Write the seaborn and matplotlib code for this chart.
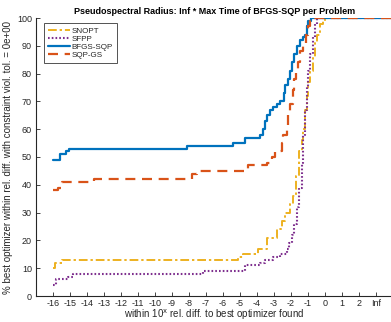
import matplotlib
matplotlib.use("Agg")
import matplotlib.pyplot as plt
import numpy as np
import pandas as pd
import seaborn as sns

# Performance-profile style step curves: x = log10 relative difference, Inf plotted at 3
snopt_x = [-16, -15.9, -15.5, -5.1, -4.8, -3.92, -3.43, -2.84, -2.55, -2.35, -2.06, -1.9, -1.7,
           -1.51, -1.37, -1.27, -1.18, -1.08, -0.98, -0.88, -0.73, -0.59, -0.45, -0.29, -0.1, 0, 4]
snopt_y = [10, 12, 13, 14, 15, 17, 21, 24, 27, 30, 33, 36, 43,
           52, 56, 60, 67, 72, 77, 81, 86, 91, 94, 98, 99, 100, 100]

sfpp_x = [-16, -15.8, -15.1, -14.8, -7.2, -4.7, -3.82, -3.53, -3.04, -2.65, -2.25, -2.1, -1.96,
          -1.82, -1.67, -1.51, -1.37, -1.27, -1.18, -1.08, -0.98, -0.88, -0.73, -0.59, -0.49, 4]
sfpp_y = [4, 6, 7, 8, 9, 11, 12, 13, 14, 15, 17, 19, 22,
          26, 32, 39, 48, 58, 67, 75, 81, 87, 93, 98, 100, 100]

bfgs_x = [-16, -15.6, -15.25, -15.05, -8.1, -5.4, -4.7, -3.82, -3.63, -3.53, -3.43, -3.24, -3.04,
          -2.84, -2.65, -2.41, -2.35, -2.16, -2.06, -1.92, -1.82, -1.67, -1.47, -1.27, -1.18,
          -1.08, -0.98, -0.84, 4]
bfgs_y = [49, 51, 52, 53, 54, 55, 57, 58, 60, 63, 65, 67, 68,
          69, 70, 73, 76, 78, 81, 84, 87, 90, 92, 93, 94,
          97, 99, 100, 100]

sqpgs_x = [-16, -15.7, -15.5, -13.6, -7.8, -7.5, -4.5, -3.43, -3.14, -2.94, -2.55, -2.45, -2.25,
           -2.16, -2.06, -1.9, -1.82, -1.7, -1.57, -1.47, -1.27, -1.12, -0.98, -0.88, -0.78, 4]
sqpgs_y = [38, 39, 41, 42, 44, 45, 47, 48, 50, 52, 55, 58, 61,
           65, 69, 74, 78, 81, 84, 88, 91, 94, 97, 99, 100, 100]

x_ticks = list(range(-16, 4))
x_tick_labels = [str(v) for v in range(-16, 3)] + ["Inf"]
y_ticks = list(range(0, 101, 10))

sns.set_style("ticks")
plt.rcParams["font.family"] = ["Liberation Sans", "DejaVu Sans"]

fig = plt.figure(figsize=(3.91, 3.22), dpi=100)
ax = fig.add_axes([36 / 391, 26 / 322, 357 / 391, 278 / 322])

series = [
    ("SNOPT", snopt_x, snopt_y, "#EDB120", (0, (4.5, 1.5, 1.2, 1.5)), 1.4),
    ("SFPP", sfpp_x, sfpp_y, "#7E2F8E", (0, (0.8, 1.0)), 1.5),
    ("BFGS-SQP", bfgs_x, bfgs_y, "#0072BD", "-", 1.6),
    ("SQP-GS", sqpgs_x, sqpgs_y, "#D95319", (0, (4.5, 3.0)), 1.6),
]
for name, xs, ys, color, ls, lw in series:
    df = pd.DataFrame({"x": xs, "pct": ys})
    sns.lineplot(data=df, x="x", y="pct", ax=ax, color=color, linestyle=ls, linewidth=lw,
                 drawstyle="steps-post", estimator=None, sort=False, label=name)

ax.set_xlim(-17, 4)
ax.set_ylim(0, 100)
ax.set_xticks(x_ticks)
ax.set_xticklabels(x_tick_labels)
ax.set_yticks(y_ticks)

dark = "#262626"
for side in ["top", "right"]:
    ax.spines[side].set_visible(False)
for side in ["left", "bottom"]:
    ax.spines[side].set_color(dark)
    ax.spines[side].set_linewidth(0.8)
ax.tick_params(direction="in", length=3, width=0.6, colors=dark, labelsize=6.5)
ax.tick_params(axis="x", pad=2)
ax.tick_params(axis="y", pad=3)

ax.set_xlabel("within 10$^{\\mathrm{x}}$ rel. diff. to best optimizer found", fontsize=7,
              color=dark, labelpad=0)
ax.set_ylabel("% best optimizer within rel. diff. with constraint viol. tol. = 0e+00",
              fontsize=7, color=dark, labelpad=3)
ax.set_title("Pseudospectral Radius: Inf * Max Time of BFGS-SQP per Problem",
             fontsize=6.5, fontweight="bold", color="black", pad=3)

leg = ax.legend(loc="upper left", bbox_to_anchor=(8 / 357, 1 - 5 / 278), borderaxespad=0,
                fontsize=5.8, frameon=True, fancybox=False, handlelength=2.7,
                handletextpad=0.25, labelspacing=0.05, borderpad=0.5)
leg.get_frame().set_edgecolor(dark)
leg.get_frame().set_linewidth(0.7)
for t in leg.get_texts():
    t.set_color(dark)

fig.savefig("out.png", dpi=100)
